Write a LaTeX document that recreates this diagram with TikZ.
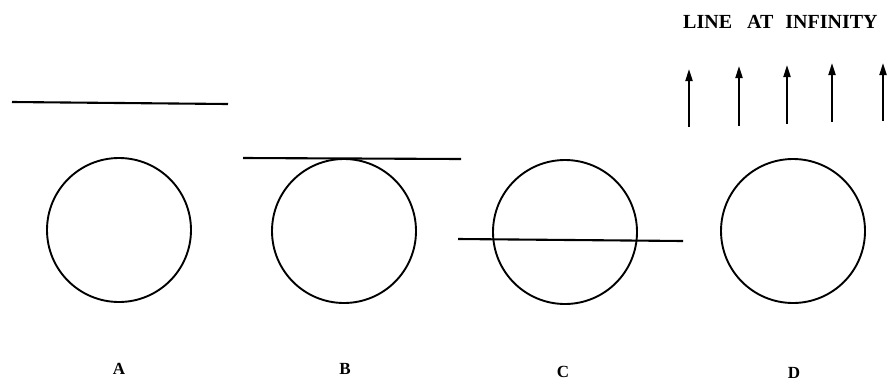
\documentclass[tikz,border=0pt]{standalone}
\usepackage{fontspec}
\setmainfont{Liberation Serif}
\usetikzlibrary{arrows.meta}
\begin{document}
\begin{tikzpicture}[x=1pt,y=-1pt,
  ring/.style={circle,draw,line width=1.9pt,minimum size=144pt,inner sep=0pt},
  bar/.style={line width=2.1pt},
  upar/.style={line width=2pt,-{Triangle[length=12pt,width=7pt]}},
  lbl/.style={font=\fontsize{17}{19}\selectfont\bfseries,inner sep=0pt}]
\useasboundingbox (0,0) rectangle (890,386);
% circles
\node[ring] (cA) at (119,230) {};
\node[ring] (cB) at (344,231) {};
\node[ring] (cC) at (565,232) {};
\node[ring] (cD) at (793,231) {};
% lines
\draw[bar] (12,102) -- (228,104);
\draw[bar] (243,158) -- (461,159);
\draw[bar] (458,239) -- (683,241);
% arrows
\foreach \i/\x/\yt/\yb in {1/689/69/127,2/739/66/126,3/787/65/124,4/832/63/122,5/883/63/121}{
  \coordinate (b\i) at (\x,\yb);
  \coordinate (t\i) at (\x,\yt);
  \draw[upar] (b\i) -- (t\i);
}
% text
\node[font=\fontsize{20}{22}\selectfont\bfseries,inner sep=0pt,anchor=west] (title) at (683,22)
  {LINE\hspace{15pt}AT\hspace{12pt}INFINITY};
\node[lbl] (lA) at (119,369) {A};
\node[lbl] (lB) at (345,369) {B};
\node[lbl] (lC) at (563,372) {C};
\node[lbl] (lD) at (794,373) {D};
\end{tikzpicture}
\end{document}
